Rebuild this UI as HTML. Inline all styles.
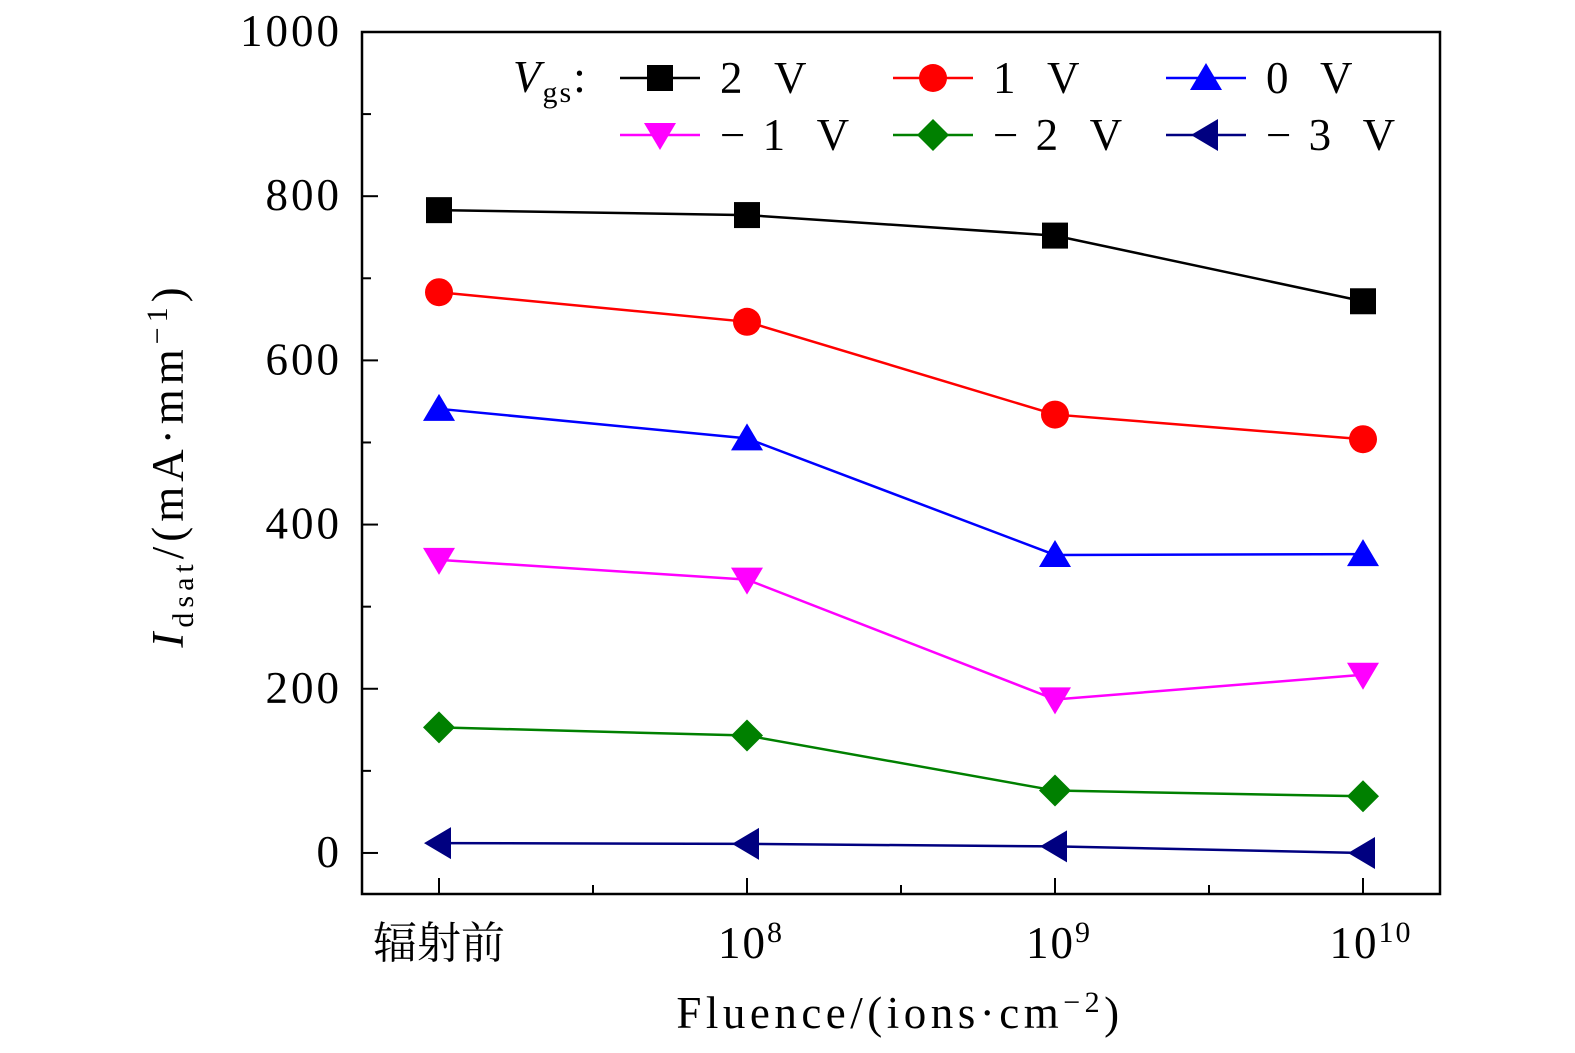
<!DOCTYPE html>
<html><head><meta charset="utf-8">
<style>
html,body{margin:0;padding:0;background:#fff;}
svg{display:block;}
text{font-family:"Liberation Serif","Noto Serif CJK SC",serif;}
</style></head>
<body>
<svg id="chart" width="1575" height="1053" viewBox="0 0 1575 1053" xmlns="http://www.w3.org/2000/svg">
<g id="axes"></g>
<g id="series"></g>
<g id="legend"></g>
</svg>
<script>
const categories = ["辐射前","10^8","10^9","10^10"];
const yTicks = [0,200,400,600,800,1000];
const seriesNames = ["2 V","1 V","0 V","−1 V","−2 V","−3 V"];
const seriesColors = ["#000000","#ff0000","#0000ff","#ff00ff","#008000","#000080"];
const seriesMarkers = ["square","circle","up","down","diamond","left"];
const s2V = [783,777,752,672];
const s1V = [683,647,534,504];
const s0V = [541,505,363,364];
const sm1V = [357,333,187,217];
const sm2V = [153,143,76,69];
const sm3V = [12,11,8,0];
const allSeries = [s2V,s1V,s0V,sm1V,sm2V,sm3V];

const NS="http://www.w3.org/2000/svg";
const L=362,R=1440,T=32,B=894;
const yMin=-50,yMax=1000;
function xs(i){return L+(i+0.25)/3.5*(R-L);}
function ys(v){return B-(v-yMin)/(yMax-yMin)*(B-T);}
function mk(tag,attrs,parent){const e=document.createElementNS(NS,tag);for(const k in attrs)e.setAttribute(k,attrs[k]);parent.appendChild(e);return e;}
const axes=document.getElementById('axes');
const frame=mk('rect',{x:L,y:T,width:R-L,height:B-T,fill:'none',stroke:'#000','stroke-width':2.5},axes);


for(let v=0;v<=1000;v+=100){
  const major=v%200===0;
  const t=mk('line',{x1:L,x2:L+(major?16:9),y1:ys(v),y2:ys(v),stroke:'#000','stroke-width':2},axes);
  
  
}
yTicks.forEach(v=>{
  const t=mk('text',{x:L-20,y:ys(v)+14,'text-anchor':'end','font-size':45,'letter-spacing':3},axes);
  t.textContent=v;
  
  
});
categories.forEach((c,i)=>{
  const t=mk('line',{x1:xs(i),x2:xs(i),y1:B,y2:B-16,stroke:'#000','stroke-width':2},axes);
  
  
  if(i<categories.length-1){
    const m=mk('line',{x1:(xs(i)+xs(i+1))/2,x2:(xs(i)+xs(i+1))/2,y1:B,y2:B-9,stroke:'#000','stroke-width':2},axes);
    
    
  }
  const lab=mk('text',{x:xs(i),y:958,'text-anchor':'middle','font-size':45,'letter-spacing':2},axes);
  
  
  if(c.indexOf('^')>0){
    const p=c.split('^');
    lab.setAttribute('x',xs(i)+(p[1].length*4));
    const a=document.createElementNS(NS,'tspan');a.textContent=p[0];lab.appendChild(a);
    const b=document.createElementNS(NS,'tspan');b.setAttribute('dy',-16);b.setAttribute('font-size',30);b.textContent=p[1];lab.appendChild(b);
  } else {lab.textContent=c;lab.setAttribute('font-size',44);lab.setAttribute('letter-spacing',0);}
});
const xt=mk('text',{x:900,y:1028,'text-anchor':'middle','font-size':45,'letter-spacing':4.5},axes);


xt.innerHTML='Fluence/(ions·cm<tspan dy="-16" font-size="30">−2</tspan><tspan dy="16">)</tspan>';
const yt=mk('text',{x:0,y:0,'text-anchor':'middle','font-size':45,'letter-spacing':5,transform:'translate(183,465) rotate(-90)'},axes);


yt.innerHTML='<tspan font-style="italic">I</tspan><tspan dy="10" font-size="30">dsat</tspan><tspan dy="-10">/(mA·mm</tspan><tspan dy="-16" font-size="30">−1</tspan><tspan dy="16">)</tspan>';

function marker(type,x,y,color,parent){
  const s=13;let e;
  if(type==='square')e=mk('rect',{x:x-s,y:y-s,width:2*s,height:2*s,fill:color},parent);
  else if(type==='circle')e=mk('circle',{cx:x,cy:y,r:s+1,fill:color},parent);
  else if(type==='up')e=mk('polygon',{points:`${x},${y-s-2} ${x-s-3},${y+s-1} ${x+s+3},${y+s-1}`,fill:color},parent);
  else if(type==='down')e=mk('polygon',{points:`${x},${y+s+2} ${x-s-3},${y-s+1} ${x+s+3},${y-s+1}`,fill:color},parent);
  else if(type==='diamond')e=mk('polygon',{points:`${x},${y-s-3} ${x+s+3},${y} ${x},${y+s+3} ${x-s-3},${y}`,fill:color},parent);
  else e=mk('polygon',{points:`${x-s-2},${y} ${x+s-1},${y-s-3} ${x+s-1},${y+s+3}`,fill:color},parent);
  return e;
}
const sg=document.getElementById('series');
allSeries.forEach((vals,k)=>{
  const g=mk('g',{},sg);
  
  
  const line=mk('polyline',{points:vals.map((v,i)=>xs(i)+','+ys(v)).join(' '),fill:'none',stroke:seriesColors[k],'stroke-width':2.5},g);
  
  
  vals.forEach((v,i)=>{
    const m=marker(seriesMarkers[k],xs(i),ys(v),seriesColors[k],g);
    
    
  });
});
const lg=document.getElementById('legend');
const vl=mk('text',{x:513,y:92,'font-size':45,'letter-spacing':2},lg);


vl.innerHTML='<tspan font-style="italic">V</tspan><tspan dy="10" font-size="30">gs</tspan><tspan dy="-10">:</tspan>';
const colX=[620,893,1166],rowY=[78,135];
seriesNames.forEach((n,k)=>{
  const cx=colX[k%3],cy=rowY[Math.floor(k/3)];
  const g=mk('g',{},lg);
  
  
  mk('line',{x1:cx,x2:cx+80,y1:cy,y2:cy,stroke:seriesColors[k],'stroke-width':2.5},g);
  marker(seriesMarkers[k],cx+40,cy,seriesColors[k],g);
  const t=mk('text',{x:cx+100,y:cy+15,'font-size':45,'letter-spacing':3,'xml:space':'preserve'},g);
  t.textContent=n.replace(' ','\u00a0\u00a0').replace('−','−\u00a0');
});
</script>
</body></html>
